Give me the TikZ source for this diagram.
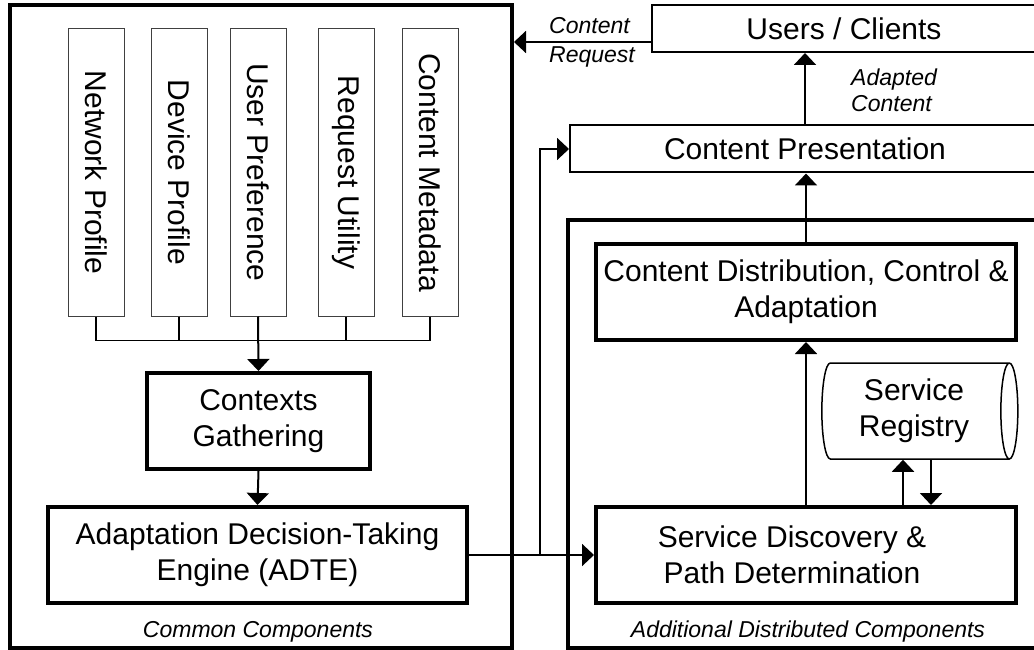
\documentclass[tikz,border=0pt]{standalone}
\usepackage{fontspec}
\setmainfont{Liberation Sans}
\usepackage{graphicx}
\usetikzlibrary{arrows.meta,shapes.geometric}

\begin{document}
\begin{tikzpicture}[x=1pt,y=-1pt,
                    font=\fontsize{30}{36}\selectfont,
                    arr/.style={line width=2pt,-{Triangle[length=12pt,width=22pt]}},
                    bus/.style={line width=1.5pt},
                    block/.style={draw,line width=4pt,align=center,inner sep=2pt,minimum height=96pt},
                    flat/.style={draw,line width=2pt,inner sep=2pt,minimum height=47pt},
                    ctx/.style={draw=black!75,line width=1pt,inner sep=0pt,minimum width=56pt,minimum height=287pt},
                    store/.style={draw,cylinder,shape aspect=0.25,line width=1.5pt,align=center,inner sep=2pt},
                    group/.style={draw,line width=4pt},
                    lbl/.style={font=\fontsize{23}{26}\selectfont\itshape,inner sep=0pt}]

      \useasboundingbox (0,0) rectangle (1034,650);
      \clip (0,0) rectangle (1034,650);

      % Define vertices
      \node[group,minimum width=502pt,minimum height=643pt] (common) at (261,326.5) {};
      \node[group,minimum width=477pt,minimum height=428pt] (distrib) at (806.5,434) {};

      \node[ctx] (netprof) at (96,172.5) {\rotatebox{-90}{Network Profile}};
      \node[ctx] (devprof) at (179,172.5) {\rotatebox{-90}{Device Profile}};
      \node[ctx] (userpref) at (258,172.5) {\rotatebox{-90}{User Preference}};
      \node[ctx] (requtil) at (346,172.5) {\rotatebox{-90}{Request Utility}};
      \node[ctx] (metadata) at (430,172.5) {\rotatebox{-90}{Content Metadata}};

      \node[block,minimum width=223pt] (gather) at (258.5,421) {Contexts\\Gathering};
      \node[block,minimum width=419pt] (adte) at (257.5,555) {Adaptation Decision-Taking\\Engine (ADTE)};
      \node[block,minimum width=420pt] (discovery) at (806,555) {Service Discovery \&\hspace*{28pt}\\Path Determination\hspace*{28pt}};
      \node[block,minimum width=420pt] (distctl) at (806,292) {Content Distribution, Control \&\\Adaptation};
      \node[store,minimum height=196pt,minimum width=96pt] (registry) at (914,411) {Service\\Registry};
      \node[flat,minimum width=470pt] (present) at (805,149) {Content Presentation};
      \node[flat,minimum width=384pt] (users) at (844,28.5) {Users / Clients};

      \node[lbl,anchor=west,align=left] (reqlbl) at (549,42) {Content\\[3pt]Request};
      \node[lbl,anchor=west,align=left] (adaptlbl) at (851,90) {Adapted\\Content};
      \node[lbl] (commonlbl) at (258,632) {Common Components};
      \node[lbl] (distriblbl) at (808,632) {Additional Distributed Components};

      % Draw edges
      \draw[bus] (netprof.south) -- ++(0,24) -| (metadata.south);
      \draw[bus] (devprof.south) -- ++(0,24);
      \draw[bus] (requtil.south) -- ++(0,24);
      \draw[arr] (userpref.south) -- (gather.north);
      \draw[arr] (gather.south) -- (adte.north);
      \draw[arr] (adte.east) -- (discovery.west);
      \coordinate (branch) at (540,555);
      \draw[arr] (branch) |- (present.west);
      \draw[arr] ([yshift=-13.5pt]users.west) -- ([yshift=-13.5pt]users.west -| common.east);
      \draw[arr] (present.north) -- (present.north |- users.south);
      \draw[arr] (distctl.north) -- (distctl.north |- present.south);
      \draw[arr] (discovery.north) -- (distctl.south);
      \draw[arr] ([xshift=-11pt]registry.south |- discovery.north) -- ([xshift=-11pt]registry.south);
      \draw[arr] ([xshift=17pt]registry.south) -- ([xshift=17pt]registry.south |- discovery.north);

    \end{tikzpicture}
\end{document}
